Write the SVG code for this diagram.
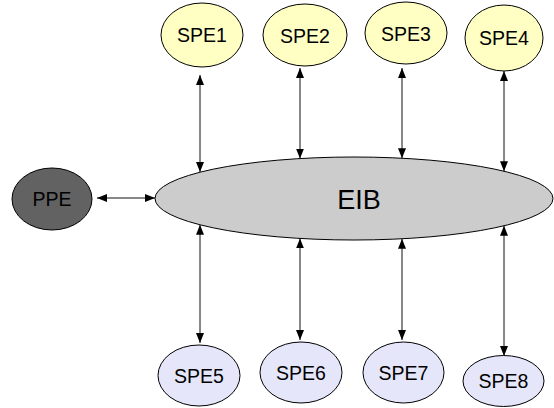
<svg xmlns="http://www.w3.org/2000/svg" width="554" height="408" viewBox="0 0 554 408">
<style>
.n{stroke:#000;stroke-width:1}
.top{fill:#ffffc4}
.bot{fill:#e6e6fa}
.t{font-family:"Liberation Sans",Arial,sans-serif;font-size:19.5px;fill:#000;text-anchor:middle}
.c{stroke:#111;stroke-width:1;fill:none;marker-start:url(#ah);marker-end:url(#ah)}
</style>
<defs>
<marker id="ah" viewBox="0 0 10 8" refX="10" refY="4" markerWidth="10" markerHeight="8" markerUnits="userSpaceOnUse" orient="auto-start-reverse">
<path d="M0,0 L10,4 L0,8 Z" fill="#000"/>
</marker>
</defs>
<rect width="554" height="408" fill="#fff"/>
<g id="connectors">
<line class="c" x1="97" y1="198" x2="155" y2="198"/>
<line class="c" x1="200" y1="75" x2="200" y2="172"/>
<line class="c" x1="300" y1="68" x2="300" y2="158.6"/>
<line class="c" x1="402" y1="68" x2="402" y2="158.2"/>
<line class="c" x1="504" y1="71" x2="504" y2="171.2"/>
<line class="c" x1="200" y1="224.8" x2="200" y2="343"/>
<line class="c" x1="300" y1="238.4" x2="300" y2="340"/>
<line class="c" x1="402" y1="238.8" x2="402" y2="340"/>
<line class="c" x1="504" y1="225.8" x2="504" y2="356"/>
</g>
<g id="EIB">
<ellipse class="n" cx="354" cy="198.5" rx="199" ry="41.5" fill="#cccccc"/>
<text class="t" x="359" y="209" style="font-size:27px">EIB</text>
</g>
<g id="PPE">
<ellipse class="n" cx="52" cy="199" rx="40" ry="31" fill="#626262"/>
<text class="t" x="52" y="206">PPE</text>
</g>
<g id="SPE1">
<ellipse class="n top" cx="202" cy="35" rx="41" ry="32"/>
<text class="t" x="202" y="42">SPE1</text>
</g>
<g id="SPE2">
<ellipse class="n top" cx="305" cy="35" rx="42" ry="31"/>
<text class="t" x="305" y="43">SPE2</text>
</g>
<g id="SPE3">
<ellipse class="n top" cx="406" cy="33" rx="41" ry="31"/>
<text class="t" x="406" y="41">SPE3</text>
</g>
<g id="SPE4">
<ellipse class="n top" cx="504" cy="38" rx="39" ry="33"/>
<text class="t" x="504" y="45">SPE4</text>
</g>
<g id="SPE5">
<ellipse class="n bot" cx="199" cy="375.5" rx="41" ry="30.5"/>
<text class="t" x="199" y="383">SPE5</text>
</g>
<g id="SPE6">
<ellipse class="n bot" cx="301" cy="372.5" rx="41" ry="30.5"/>
<text class="t" x="301" y="380">SPE6</text>
</g>
<g id="SPE7">
<ellipse class="n bot" cx="403.5" cy="372.5" rx="40.5" ry="30.5"/>
<text class="t" x="403.5" y="380">SPE7</text>
</g>
<g id="SPE8">
<ellipse class="n bot" cx="503.5" cy="381" rx="40.5" ry="25.5"/>
<text class="t" x="503.5" y="388">SPE8</text>
</g>
</svg>
